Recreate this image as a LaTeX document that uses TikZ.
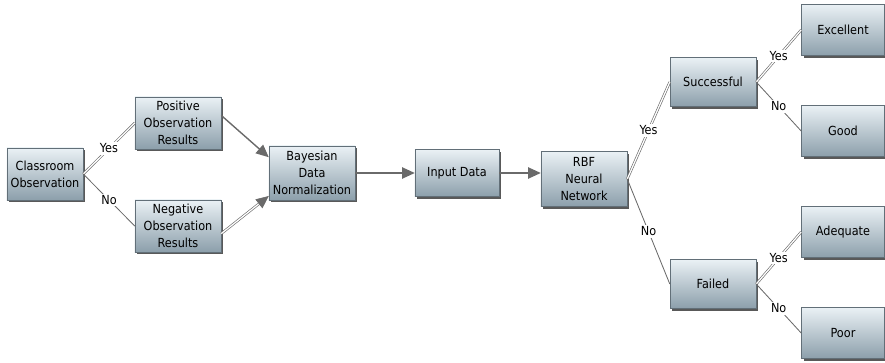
\documentclass[tikz,border=0pt]{standalone}
\usepackage{fontspec}
\setmainfont{DejaVu Sans Condensed}
\usetikzlibrary{arrows.meta,shadows}
\definecolor{boxtop}{HTML}{EAF1F5}
\definecolor{boxbot}{HTML}{8C9FAB}
\definecolor{lnk}{HTML}{6A6A6A}
\newcommand{\boxfont}{\fontsize{8.9}{12}\selectfont}

\begin{document}
\begin{tikzpicture}[x=0.025cm,y=-0.025cm,
    box/.style={rectangle,top color=boxtop,bottom color=boxbot,draw=boxbot!70!black,
      line width=0.3pt,align=center,inner sep=1pt,font=\boxfont,
      minimum width=2.15cm,minimum height=1.3cm,
      drop shadow={shadow xshift=1.6pt,shadow yshift=-1.6pt,fill=black!65,opacity=1}},
    yes/.style={draw=lnk,line width=0.45pt,double=white,double distance=0.9pt},
    no/.style={draw=lnk,line width=0.6pt},
    arr/.style={draw=lnk,line width=1pt,-{Triangle[length=9pt,width=8pt]}},
    dblarr/.style={draw=lnk,line width=0.45pt,double=white,double distance=0.9pt,
      -{Triangle[length=9pt,width=8pt,fill=lnk]}},
    lbl/.style={fill=white,inner sep=1pt,font=\boxfont}]
  \useasboundingbox (0,0) rectangle (885,362);
  % boxes
  \node[box,minimum width=1.9cm] (obs) at (45,174) {Classroom\\Observation};
  \node[box] (pos) at (178,123) {Positive\\Observation\\Results};
  \node[box] (neg) at (178,226) {Negative\\Observation\\Results};
  \node[box,minimum height=1.35cm] (bay) at (312,173) {Bayesian\\Data\\Normalization};
  \node[box,minimum width=2.1cm,minimum height=1.18cm] (inp) at (457,173) {Input Data};
  \node[box,minimum height=1.38cm] (rbf) at (584,179) {RBF\\Neural\\Network};
  \node[box,minimum height=1.22cm] (suc) at (713,82) {Successful};
  \node[box,minimum height=1.22cm] (fail) at (713,284) {Failed};
  \node[box,minimum width=2.08cm,minimum height=1.28cm] (exc) at (843,30) {Excellent};
  \node[box,minimum width=2.08cm,minimum height=1.28cm] (good) at (843,131) {Good};
  \node[box,minimum width=2.08cm,minimum height=1.28cm] (adq) at (843,232) {Adequate};
  \node[box,minimum width=2.08cm,minimum height=1.28cm] (poor) at (843,333) {Poor};
  % connectors
  \draw[yes] (obs.east) -- node[lbl] {Yes} (pos.west);
  \draw[no] (obs.east) -- node[lbl] {No} (neg.west);
  \draw[arr] (pos.10) -- (bay.160);
  \draw[dblarr] (neg.-10) -- (bay.208);
  \draw[arr] (bay.east) -- (inp.west);
  \draw[arr] (inp.east) -- (inp.east -| rbf.west);
  \draw[yes] (rbf.east) -- node[lbl] {Yes} (suc.west);
  \draw[no] (rbf.east) -- node[lbl] {No} (fail.west);
  \draw[yes] (suc.east) -- node[lbl] {Yes} (exc.west);
  \draw[no] (suc.east) -- node[lbl] {No} (good.west);
  \draw[yes] (fail.east) -- node[lbl] {Yes} (adq.west);
  \draw[no] (fail.east) -- node[lbl] {No} (poor.west);
\end{tikzpicture}
\end{document}
